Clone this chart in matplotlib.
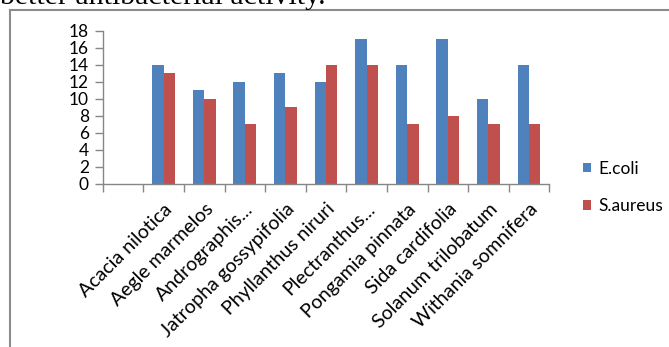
import numpy as np
import matplotlib
matplotlib.use('Agg')
import matplotlib.pyplot as plt
from matplotlib.lines import Line2D

# first slot of the category axis is empty in the source chart
plants = ['', 'Acacia nilotica', 'Aegle marmelos', 'Andrographis...', 'Jatropha gossypifolia',
          'Phyllanthus niruri', 'Plectranthus...', 'Pongamia pinnata', 'Sida cardifolia',
          'Solanum trilobatum', 'Withania somnifera']
ecoli = [np.nan, 14, 11, 12, 13, 12, 17, 14, 17, 10, 14]
saureus = [np.nan, 13, 10, 7, 9, 14, 14, 7, 8, 7, 7]
yticks = [0, 2, 4, 6, 8, 10, 12, 14, 16, 18]

BLUE = '#4F81BD'
RED = '#C0504D'
GREY = '#868686'
FONT = 'Lato'

W, H = 669, 347
fig = plt.figure(figsize=(W / 100, H / 100), dpi=100)

# axes placed in pixel terms from the reference
left, right, top, bottom = 102.7, 549.3, 30.7, 183.7
ax = fig.add_axes([left / W, 1 - bottom / H, (right - left) / W, (bottom - top) / H])

x = np.arange(len(plants))
bw = 0.283
ax.bar(x - bw / 2, ecoli, bw, color=BLUE, label='E.coli')
ax.bar(x + bw / 2, saureus, bw, color=RED, label='S.aureus')

ax.set_xlim(-0.5, len(plants) - 0.5)
ax.set_ylim(0, 18)
ax.set_yticks(yticks)
ax.set_yticklabels([str(v) for v in yticks], fontsize=12.5, family=FONT)

ax.set_xticks(x)
ax.set_xticklabels(plants, rotation=45, ha='right', va='top', rotation_mode='anchor',
                   fontsize=14, family=FONT)
ax.set_xticks(np.arange(-0.5, len(plants)), minor=True)
ax.tick_params(axis='x', which='major', length=0, pad=12)
ax.tick_params(axis='x', which='minor', length=6, color=GREY, width=1)
ax.tick_params(axis='y', length=6, color=GREY, width=1, pad=4)

for s in ['top', 'right']:
    ax.spines[s].set_visible(False)
for s in ['left', 'bottom']:
    ax.spines[s].set_color(GREY)
    ax.spines[s].set_linewidth(1)

ax.legend(loc='upper left', bbox_to_anchor=(574 / W, 1 - 152 / H), bbox_transform=fig.transFigure,
          frameon=False, handlelength=0.5, handleheight=0.5, handletextpad=0.4,
          labelspacing=1.25, prop={'family': FONT, 'size': 12.5}, borderpad=0)

# outer frame of the embedded chart (only top and left visible)
fig.add_artist(Line2D([10 / W, 10 / W], [0, 1 - 10 / H], color='#8c8c8c', lw=1.5))
fig.add_artist(Line2D([10 / W, 1], [1 - 10 / H, 1 - 10 / H], color='#8c8c8c', lw=1.5))

# cropped line of the document text above the chart
fig.text(0.5 / W, 1 - 4.5 / H, 'better antibacterial activity.', family='Liberation Serif',
         fontsize=21.5, va='baseline', ha='left')

fig.savefig('out.png', dpi=100)
